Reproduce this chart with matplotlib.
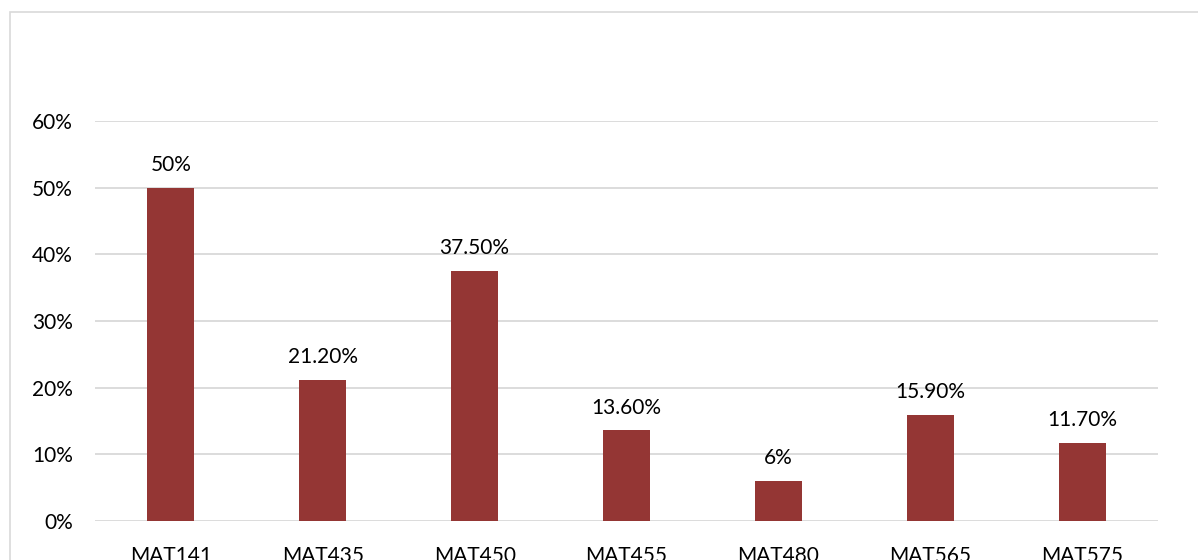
import matplotlib.pyplot as plt
from matplotlib.patches import Rectangle
from matplotlib.ticker import PercentFormatter

# dane
courses = ['MAT141', 'MAT435', 'MAT450', 'MAT455', 'MAT480', 'MAT565', 'MAT575']
values = [0.50, 0.212, 0.375, 0.136, 0.06, 0.159, 0.117]
value_labels = ['50%', '21.20%', '37.50%', '13.60%', '6%', '15.90%', '11.70%']
y_ticks = [0, 0.1, 0.2, 0.3, 0.4, 0.5, 0.6]


def main() -> None:
    plt.rcParams['font.family'] = ['Lato', 'DejaVu Sans']
    fig = plt.figure(figsize=(11.98, 5.6), dpi=100)

    # ramka wokół wykresu
    fig.patches.append(Rectangle((10 / 1198, -0.1), 1.2, 1 - 12 / 560 + 0.1,
                                 transform=fig.transFigure, fill=False,
                                 edgecolor='#d9d9d9', linewidth=1.2))

    ax = fig.add_axes([95 / 1198, 39 / 560, (1158 - 95) / 1198, (521 - 121) / 560])
    x = range(len(courses))
    ax.bar(x, values, width=0.31, color='#943634', zorder=3)
    ax.set_xlim(-0.5, len(courses) - 0.5)
    ax.set_ylim(0, 0.6)
    ax.set_yticks(y_ticks)
    ax.yaxis.set_major_formatter(PercentFormatter(1.0, decimals=0))
    ax.set_xticks(list(x))
    ax.set_xticklabels(courses)
    ax.grid(axis='y', color='#d9d9d9', linewidth=1.3, zorder=0)
    for s in ax.spines.values():
        s.set_visible(False)
    ax.tick_params(axis='both', length=0, labelsize=15, colors='#000000')
    ax.tick_params(axis='x', pad=18)
    ax.tick_params(axis='y', pad=16)

    for xi, v, lab in zip(x, values, value_labels):
        ax.annotate(lab, (xi, v), xytext=(0, 9), textcoords='offset points',
                    ha='center', va='bottom', fontsize=15, color='#000000')

    fig.savefig('out.png', dpi=100)


if __name__ == "__main__":
    main()
